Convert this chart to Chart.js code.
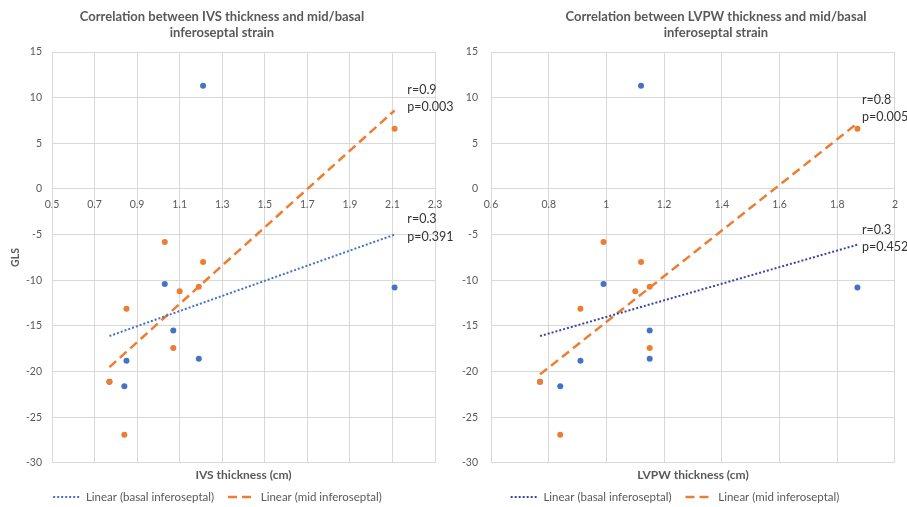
<!DOCTYPE html>
<html>
<head>
<meta charset="utf-8">
<script src="https://cdn.jsdelivr.net/npm/chart.js@4.4.1/dist/chart.umd.min.js"></script>
<style>
body { margin: 0; background: #fff; }
#wrap { position: relative; width: 907px; height: 507px; }
.box { position: absolute; top: 0; height: 507px; }
</style>
</head>
<body>
<div id="wrap">
  <div class="box" style="left:0;width:455px"><canvas id="ivs"></canvas></div>
  <div class="box" style="left:455px;width:452px"><canvas id="lvpw"></canvas></div>
</div>
<script>
// GLS values (same patients in both charts)
const basalGls = [11.3, -10.4, -15.5, -18.6, -18.8, -10.8, -21.6, -21.1];
const midGls = [6.6, -5.8, -8.0, -11.2, -10.7, -13.1, -17.4, -21.1, -26.9];

// IVS thickness (cm)
const ivsBasal = [1.21, 1.03, 1.07, 1.19, 0.85, 2.11, 0.84, 0.77];
const ivsMid = [2.11, 1.03, 1.21, 1.10, 1.19, 0.85, 1.07, 0.77, 0.84];
const ivsBasalTrendX = [0.77, 2.11];
const ivsBasalTrendY = [-16.1, -5.0];
const ivsMidTrendX = [0.77, 2.11];
const ivsMidTrendY = [-19.5, 8.6];

// LVPW thickness (cm)
const lvpwBasal = [1.12, 0.99, 1.15, 1.15, 0.91, 1.87, 0.84, 0.77];
const lvpwMid = [1.87, 0.99, 1.12, 1.10, 1.15, 0.91, 1.15, 0.77, 0.84];
const lvpwBasalTrendX = [0.77, 1.87];
const lvpwBasalTrendY = [-16.1, -6.1];
const lvpwMidTrendX = [0.77, 1.87];
const lvpwMidTrendY = [-20.3, 7.2];

const ivsNotes = [
  { text: 'r=0.9', x: 2.17, y: 10.8 }, { text: 'p=0.003', x: 2.17, y: 9.0 },
  { text: 'r=0.3', x: 2.17, y: -3.3 }, { text: 'p=0.391', x: 2.17, y: -5.3 }
];
const lvpwNotes = [
  { text: 'r=0.8', x: 1.886, y: 9.75 }, { text: 'p=0.005', x: 1.886, y: 7.9 },
  { text: 'r=0.3', x: 1.886, y: -4.5 }, { text: 'p=0.452', x: 1.886, y: -6.35 }
];

const BLUE = '#4472C4';
const ORANGE = '#ED7D31';
const GRID = '#d9d9d9';
const TEXT = '#595959';

Chart.defaults.font.family = 'Lato';
Chart.defaults.color = TEXT;

function pts(xs, ys) {
  return xs.map((x, i) => ({ x: x, y: ys[i] }));
}

// titles, x axis title and r/p notes
const textPlugin = {
  id: 'texts',
  afterDraw(chart, args, opts) {
    const ctx = chart.ctx;
    const area = chart.chartArea;
    const sx = chart.scales.x, sy = chart.scales.y;
    ctx.save();
    ctx.fillStyle = TEXT;
    ctx.textAlign = 'center';
    ctx.textBaseline = 'middle';
    ctx.font = 'bold 13px Lato';
    opts.title.forEach((t, i) => ctx.fillText(t, opts.titleX, 17 + i * 16));
    ctx.font = 'bold 12px Lato';
    ctx.fillText(opts.xTitle, (area.left + area.right) / 2, 475);
    ctx.textAlign = 'left';
    ctx.fillStyle = '#333';
    ctx.font = '12.5px Lato';
    opts.notes.forEach(n => ctx.fillText(n.text, sx.getPixelForValue(n.x), sy.getPixelForValue(n.y)));
    ctx.restore();
  }
};

function legendLabels(chart) {
  const items = Chart.defaults.plugins.legend.labels.generateLabels(chart);
  return items.filter(it => chart.data.datasets[it.datasetIndex].trend).map(it => {
    const ds = chart.data.datasets[it.datasetIndex];
    it.lineDash = ds.borderDash;
    it.lineWidth = ds.borderWidth;
    it.strokeStyle = ds.borderColor;
    return it;
  });
}

function makeChart(id, cfg) {
  return new Chart(document.getElementById(id), {
    type: 'scatter',
    data: {
      datasets: [
        { label: 'Linear (basal inferoseptal)', data: pts(cfg.basalTrendX, cfg.basalTrendY), showLine: true,
          borderColor: cfg.trendBlue, borderWidth: 2, borderDash: [2, 2], pointRadius: 0, order: 0, trend: true },
        { label: 'Linear (mid inferoseptal)', data: pts(cfg.midTrendX, cfg.midTrendY), showLine: true,
          borderColor: ORANGE, borderWidth: 2.5, borderDash: [9, 5], pointRadius: 0, order: 1, trend: true },
        { label: 'mid inferoseptal', data: pts(cfg.midX, midGls), backgroundColor: ORANGE,
          borderWidth: 0, pointRadius: 3, order: 2 },
        { label: 'basal inferoseptal', data: pts(cfg.basalX, basalGls), backgroundColor: BLUE,
          borderWidth: 0, pointRadius: 3, order: 3 }
      ]
    },
    options: {
      responsive: true,
      maintainAspectRatio: false,
      animation: false,
      layout: { padding: { top: 52, left: cfg.padLeft, right: cfg.padRight, bottom: -5.75 } },
      scales: {
        x: {
          type: 'linear',
          position: { y: 0 },
          min: cfg.xMin, max: cfg.xMax,
          ticks: { stepSize: 0.2, padding: 9, font: { size: 10.5 }, color: TEXT,
            callback: v => String(Number(v.toFixed(2))) },
          grid: { color: GRID, drawTicks: false },
          border: { color: GRID }
        },
        y: {
          min: -30, max: 15,
          ticks: { stepSize: 5, padding: cfg.yPad, font: { size: 10.5 }, color: TEXT },
          grid: { color: GRID, drawTicks: false },
          border: { color: GRID },
          title: { display: cfg.yTitle, text: 'GLS', font: { size: 10.5, weight: 'bold' }, color: TEXT,
            padding: { top: 9, bottom: 0 } },
          afterFit(s) { s.width = cfg.yWidth; }
        }
      },
      plugins: {
        legend: {
          position: 'bottom',
          title: { display: true, text: '', padding: 0, font: { size: 11.9 } },
          labels: {
            usePointStyle: true, pointStyle: 'line', pointStyleWidth: 27,
            padding: 14, font: { size: 11.5 }, color: TEXT,
            generateLabels: legendLabels
          }
        },
        tooltip: { enabled: false },
        texts: { title: cfg.title, titleX: cfg.titleX, xTitle: cfg.xTitle, notes: cfg.notes }
      }
    },
    plugins: [textPlugin]
  });
}

makeChart('ivs', {
  basalX: ivsBasal, midX: ivsMid,
  basalTrendX: ivsBasalTrendX, basalTrendY: ivsBasalTrendY,
  midTrendX: ivsMidTrendX, midTrendY: ivsMidTrendY,
  trendBlue: BLUE, xMin: 0.5, xMax: 2.3,
  yWidth: 52, yPad: 10, yTitle: true, padLeft: 0, padRight: 20,
  title: ['Correlation between IVS thickness and mid/basal', 'inferoseptal strain'], titleX: 222,
  xTitle: 'IVS thickness (cm)', notes: ivsNotes
});

makeChart('lvpw', {
  basalX: lvpwBasal, midX: lvpwMid,
  basalTrendX: lvpwBasalTrendX, basalTrendY: lvpwBasalTrendY,
  midTrendX: lvpwMidTrendX, midTrendY: lvpwMidTrendY,
  trendBlue: '#3A45A6', xMin: 0.6, xMax: 2,
  yWidth: 36, yPad: 13, yTitle: false, padLeft: 0, padRight: 12,
  title: ['Correlation between LVPW thickness and mid/basal', 'inferoseptal strain'], titleX: 261,
  xTitle: 'LVPW thickness (cm)', notes: lvpwNotes
});
</script>
</body>
</html>
